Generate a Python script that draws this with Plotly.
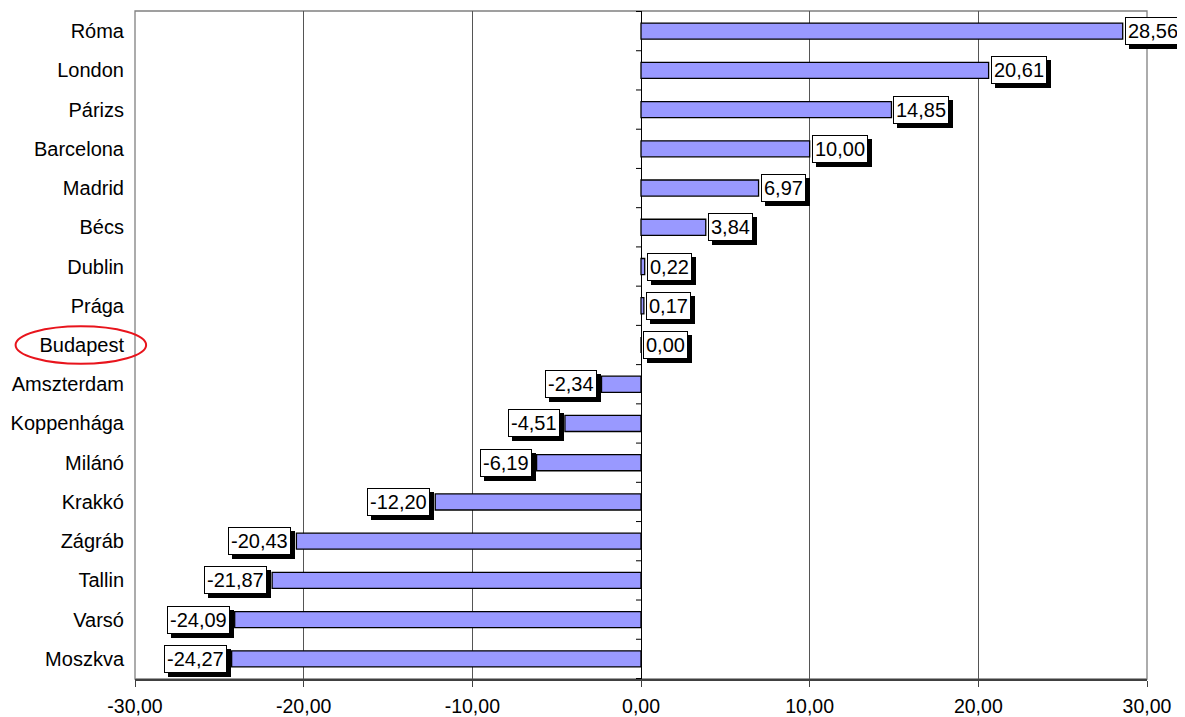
import plotly.graph_objects as go

cities = ["Róma", "London", "Párizs", "Barcelona", "Madrid", "Bécs", "Dublin", "Prága",
          "Budapest", "Amszterdam", "Koppenhága", "Milánó", "Krakkó", "Zágráb", "Tallin",
          "Varsó", "Moszkva"]
values = [28.56, 20.61, 14.85, 10.00, 6.97, 3.84, 0.22, 0.17, 0.00, -2.34, -4.51,
          -6.19, -12.20, -20.43, -21.87, -24.09, -24.27]
x_ticks = [-30, -20, -10, 0, 10, 20, 30]
highlight = "Budapest"

FONT = "Liberation Sans, Arial, sans-serif"


def fmt(v):
    return f"{v:.2f}".replace(".", ",")


fig = go.Figure()
fig.add_trace(go.Bar(
    y=cities, x=values, orientation="h", width=0.41,
    marker=dict(color="#9999FF", line=dict(color="black", width=1.3)),
    hoverinfo="skip",
))

annotations = []
for c, v in zip(cities, values):
    pos = v >= 0
    anchor = "left" if pos else "right"
    base = 2 if pos else -5
    # shadow
    annotations.append(dict(
        x=v, y=c, xref="x", yref="y", text=fmt(v), showarrow=False,
        xanchor=anchor, yanchor="middle", xshift=base + 4, yshift=-4,
        font=dict(family=FONT, size=20, color="black"),
        bgcolor="black", bordercolor="black", borderwidth=1, borderpad=2,
    ))
    annotations.append(dict(
        x=v, y=c, xref="x", yref="y", text=fmt(v), showarrow=False,
        xanchor=anchor, yanchor="middle", xshift=base, yshift=0,
        font=dict(family=FONT, size=20, color="black"),
        bgcolor="white", bordercolor="black", borderwidth=1, borderpad=2,
    ))

shapes = []
# plot frame (gray)
shapes.append(dict(type="rect", xref="paper", yref="paper", x0=0, x1=1, y0=0, y1=1,
                   line=dict(color="#808080", width=1.3), layer="below"))
# zero axis tick marks at category boundaries
for i in range(len(cities) + 1):
    shapes.append(dict(type="line", xref="x", yref="y", xsizemode="pixel", xanchor=0,
                       x0=-5, x1=0, y0=i - 0.5, y1=i - 0.5,
                       line=dict(color="black", width=1)))
# red ellipse around highlighted city
hi = cities.index(highlight)
shapes.append(dict(type="circle", xref="paper", yref="y", x0=-0.118, x1=0.011,
                   y0=hi - 0.48, y1=hi + 0.48, line=dict(color="#E8141C", width=2)))

fig.update_layout(
    width=1177, height=709,
    margin=dict(l=127, r=38, t=3, b=38),
    paper_bgcolor="white", plot_bgcolor="white",
    showlegend=False,
    font=dict(family=FONT, size=20, color="black"),
    annotations=annotations,
    shapes=shapes,
    xaxis=dict(
        range=[-30, 30], tickvals=x_ticks, ticktext=[fmt(t) for t in x_ticks],
        showgrid=True, gridcolor="#555555", gridwidth=1.2,
        zeroline=True, zerolinecolor="black", zerolinewidth=1.2,
        showline=True, linecolor="#404040", linewidth=2,
        ticks="outside", ticklen=6, tickcolor="#404040",
        tickfont=dict(family=FONT, size=19.5, color="black"),
        ticklabelstandoff=3, automargin=False,
    ),
    yaxis=dict(
        autorange="reversed", type="category",
        showgrid=False, zeroline=False, showline=False, ticks="",
        tickfont=dict(family=FONT, size=20, color="black"),
        ticklabelstandoff=10, automargin=False,
    ),
)

fig.write_html("out.html")
